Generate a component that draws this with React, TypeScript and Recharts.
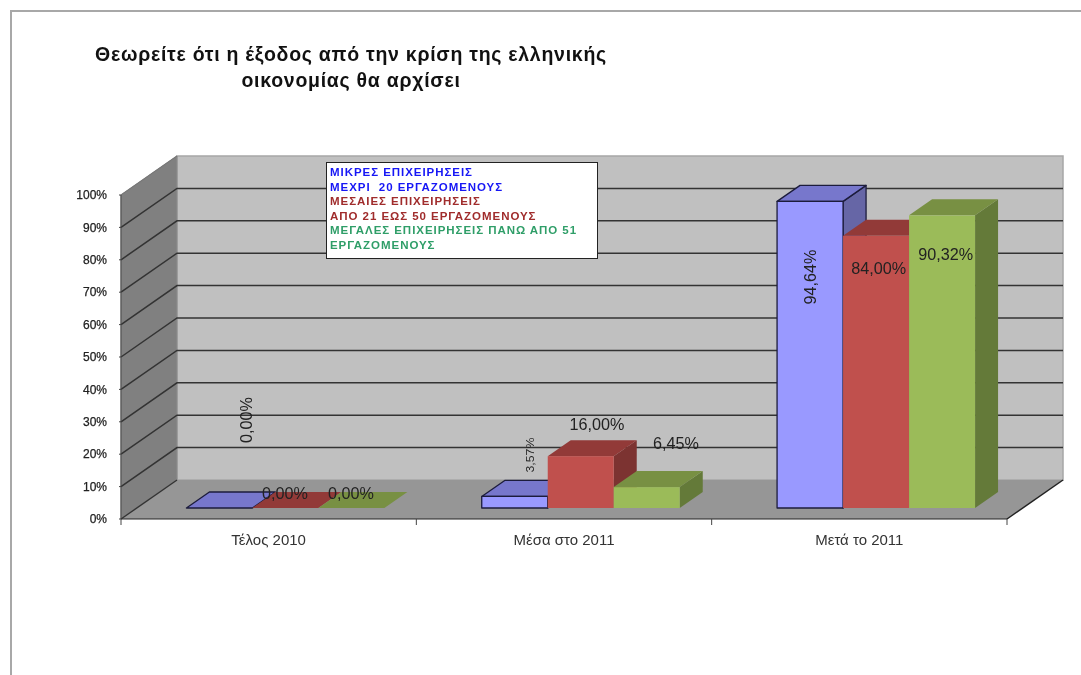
import React from "react";
import { BarChart, Bar, XAxis, YAxis, CartesianGrid, ReferenceArea, LabelList, Legend } from "recharts";

const categories = ["Τέλος 2010", "Μέσα στο 2011", "Μετά το 2011"];
const smallFirms = [0, 3.57, 94.64];
const mediumFirms = [0, 16, 84];
const largeFirms = [0, 6.45, 90.32];
const yTicks = [0, 10, 20, 30, 40, 50, 60, 70, 80, 90, 100];
const titleLines = ["Θεωρείτε ότι η έξοδος από την κρίση της ελληνικής", "οικονομίας θα αρχίσει"];
const legendLines = [
  { text: "ΜΙΚΡΕΣ ΕΠΙΧΕΙΡΗΣΕΙΣ", color: "#1616f5" },
  { text: "ΜΕΧΡΙ  20 ΕΡΓΑΖΟΜΕΝΟΥΣ", color: "#1616f5" },
  { text: "ΜΕΣΑΙΕΣ ΕΠΙΧΕΙΡΗΣΕΙΣ", color: "#a02c2c" },
  { text: "ΑΠΟ 21 ΕΩΣ 50 ΕΡΓΑΖΟΜΕΝΟΥΣ", color: "#a02c2c" },
  { text: "ΜΕΓΑΛΕΣ ΕΠΙΧΕΙΡΗΣΕΙΣ ΠΑΝΩ ΑΠΟ 51", color: "#2f9e68" },
  { text: "ΕΡΓΑΖΟΜΕΝΟΥΣ", color: "#2f9e68" },
];

const data = categories.map((name, i) => ({
  name,
  small: smallFirms[i],
  medium: mediumFirms[i],
  large: largeFirms[i],
}));

const WALL_DX = 56;
const WALL_DY = -39;
const BAR_SHIFT_X = 16.8;
const BAR_SHIFT_Y = -11;
const BAR_DEPTH_X = 23;
const BAR_DEPTH_Y = -16;
const PLOT_WIDTH = 886;
const FONT = "'Liberation Sans', Arial, sans-serif";

const pts = (...p: number[][]) => p.map((q) => q.join(",")).join(" ");

function Walls({ x, y, width, height }: any) {
  const r = x + width;
  const b = y + height;
  return (
    <g>
      <polygon points={pts([x + WALL_DX, y + WALL_DY], [r + WALL_DX, y + WALL_DY], [r + WALL_DX, b + WALL_DY], [x + WALL_DX, b + WALL_DY])} fill="#c0c0c0" stroke="#a6a6a6" strokeWidth={1.5} />
      <polygon points={pts([x, y], [x + WALL_DX, y + WALL_DY], [x + WALL_DX, b + WALL_DY], [x, b])} fill="#808080" stroke="#8c8c8c" strokeWidth={1} />
      <polygon points={pts([x, b], [r, b], [r + WALL_DX, b + WALL_DY], [x + WALL_DX, b + WALL_DY])} fill="#969696" />
      <line x1={r} y1={b} x2={r + WALL_DX} y2={b + WALL_DY} stroke="#222" strokeWidth={1.5} />
    </g>
  );
}

function gridLine(props: any) {
  const { x1, x2, y1, index, key } = props;
  const top = y1 < 200;
  const bottom = y1 > 510;
  if (bottom) {
    return <polyline key={key ?? index} points={pts([x1, y1], [x1 + WALL_DX, y1 + WALL_DY])} fill="none" stroke="#333" strokeWidth={1.4} />;
  }
  if (top) {
    return <polyline key={key ?? index} points={pts([x1, y1], [x1 + WALL_DX, y1 + WALL_DY])} fill="none" stroke="#777" strokeWidth={1.2} />;
  }
  return (
    <polyline
      key={key ?? index}
      points={pts([x1, y1], [x1 + WALL_DX, y1 + WALL_DY], [x2 + WALL_DX, y1 + WALL_DY])}
      fill="none"
      stroke="#333"
      strokeWidth={1.5}
    />
  );
}

const palettes = {
  small: { front: "#9999ff", top: "#7777cc", side: "#6666a6", stroke: "#1c1c3c" },
  medium: { front: "#c0504d", top: "#923a38", side: "#7c3331", stroke: "none" },
  large: { front: "#9bbb59", top: "#789043", side: "#647a39", stroke: "none" },
};

function makeBar(p: { front: string; top: string; side: string; stroke: string }) {
  return function Bar3D(props: any) {
    const x = props.x + BAR_SHIFT_X;
    const y = props.y + BAR_SHIFT_Y;
    const w = props.width;
    const h = props.height;
    const r = x + w;
    const b = y + h;
    const sw = p.stroke === "none" ? 0 : 1.3;
    return (
      <g stroke={p.stroke} strokeWidth={sw} strokeLinejoin="round">
        {h > 0.5 && <polygon points={pts([r, y], [r + BAR_DEPTH_X, y + BAR_DEPTH_Y], [r + BAR_DEPTH_X, b + BAR_DEPTH_Y], [r, b])} fill={p.side} />}
        <polygon points={pts([x, y], [r, y], [r + BAR_DEPTH_X, y + BAR_DEPTH_Y], [x + BAR_DEPTH_X, y + BAR_DEPTH_Y])} fill={p.top} />
        {h > 0.5 && <rect x={x} y={y} width={w} height={h} fill={p.front} />}
      </g>
    );
  };
}

const fmt = (v: number) => v.toFixed(2).replace(".", ",") + "%";

type Place = { dx: number; dy: number; rot?: boolean; size?: number; length?: number };
const smallPlaces: Place[] = [
  { dx: 43.4, dy: -99, rot: true },
  { dx: 32, dy: -52.4, rot: true, size: 10.5, length: 35 },
  { dx: 16.4, dy: 64.6, rot: true },
];
const mediumPlaces: Place[] = [
  { dx: 16.4, dy: -26 },
  { dx: 33, dy: -43 },
  { dx: 19.4, dy: 21 },
];
const largePlaces: Place[] = [
  { dx: 16.4, dy: -26 },
  { dx: 46, dy: -55 },
  { dx: 20.4, dy: 27.6 },
];

function makeLabel(places: Place[]) {
  return function BarLabel(props: any) {
    const { x, y, width, value, index } = props;
    const place = places[index];
    const cx = x + width / 2 + place.dx;
    const cy = y + place.dy;
    return (
      <text
        x={cx}
        y={cy}
        textAnchor="middle"
        dominantBaseline="central"
        fontFamily={FONT}
        fontSize={place.size ?? 16.2}
        fill="#222"
        textLength={place.length}
        lengthAdjust={place.length ? "spacingAndGlyphs" : undefined}
        transform={place.rot ? `rotate(-90 ${cx} ${cy})` : undefined}
      >
        {fmt(value)}
      </text>
    );
  };
}

function CategoryTick(props: any) {
  const { x, y, payload, index } = props;
  const band = PLOT_WIDTH / categories.length;
  const axisY = y - 8;
  return (
    <g>
      <line x1={x - band / 2} y1={axisY} x2={x - band / 2} y2={axisY + 6} stroke="#444" strokeWidth={1} />
      {index === categories.length - 1 && (
        <line x1={x + band / 2} y1={axisY} x2={x + band / 2} y2={axisY + 6} stroke="#444" strokeWidth={1} />
      )}
      <text x={x} y={axisY + 26} textAnchor="middle" fontFamily={FONT} fontSize={15} fill="#333">
        {payload.value}
      </text>
    </g>
  );
}

function TextBox() {
  return (
    <div
      style={{
        boxSizing: "border-box",
        width: 272,
        height: 97,
        background: "#fff",
        border: "1.5px solid #222",
        padding: "2px 0 0 3px",
        fontFamily: FONT,
        fontWeight: 700,
        fontSize: 11.5,
        lineHeight: "14.6px",
        whiteSpace: "pre",
        letterSpacing: 0.95,
      }}
    >
      {legendLines.map((l) => (
        <div key={l.text} style={{ color: l.color }}>{l.text}</div>
      ))}
    </div>
  );
}

export default function App() {
  return (
    <div style={{ position: "absolute", left: 0, top: 0, width: 1081, height: 675, overflow: "hidden", background: "#fff", filter: "blur(0.45px)" }}>
      <div style={{ position: "absolute", left: 10, top: 10, width: 1071, height: 665, borderTop: "2px solid #a8a8a8", borderLeft: "2px solid #a8a8a8" }} />
      {titleLines.map((t, i) => (
        <div
          key={t}
          style={{
            position: "absolute",
            left: 51,
            width: 600,
            top: 43 + i * 26,
            textAlign: "center",
            fontFamily: FONT,
            fontWeight: 700,
            fontSize: 19.5,
            letterSpacing: 0.73,
            lineHeight: "22px",
            color: "#111",
            whiteSpace: "nowrap",
          }}
        >
          {t}
        </div>
      ))}
      <BarChart
        width={1081}
        height={675}
        data={data}
        margin={{ top: 195, right: 74, bottom: 126, left: 61 }}
        barGap={0}
        barCategoryGap={48.6}
        style={{ position: "absolute", left: 0, top: 0 }}
      >
        <ReferenceArea y1={0} y2={100} shape={Walls} ifOverflow="visible" zIndex={-200} />
        <CartesianGrid vertical={false} horizontal={gridLine} />
        <XAxis
          dataKey="name"
          height={30}
          tickLine={false}
          stroke="#222"
          tick={CategoryTick}
          interval={0}
        />
        <YAxis
          width={60}
          domain={[0, 100]}
          ticks={yTicks}
          tickFormatter={(v: number) => v + "%"}
          tickSize={2}
          stroke="#444"
          tick={{ fill: "#222", fontSize: 12, stroke: "#222", strokeWidth: 0.25, fontFamily: FONT, dx: -10 }}
          interval={0}
        />
        <Legend
          layout="horizontal"
          align="center"
          verticalAlign="middle"
          content={<TextBox />}
          wrapperStyle={{ position: "absolute", left: 326, top: 162, width: 272, height: 97, margin: 0 }}
        />
        <Bar dataKey="small" name="Μικρές επιχειρήσεις" isAnimationActive={false} shape={makeBar(palettes.small)}>
          <LabelList dataKey="small" content={makeLabel(smallPlaces)} />
        </Bar>
        <Bar dataKey="medium" name="Μεσαίες επιχειρήσεις" isAnimationActive={false} shape={makeBar(palettes.medium)}>
          <LabelList dataKey="medium" content={makeLabel(mediumPlaces)} />
        </Bar>
        <Bar dataKey="large" name="Μεγάλες επιχειρήσεις" isAnimationActive={false} shape={makeBar(palettes.large)}>
          <LabelList dataKey="large" content={makeLabel(largePlaces)} />
        </Bar>
      </BarChart>
    </div>
  );
}
